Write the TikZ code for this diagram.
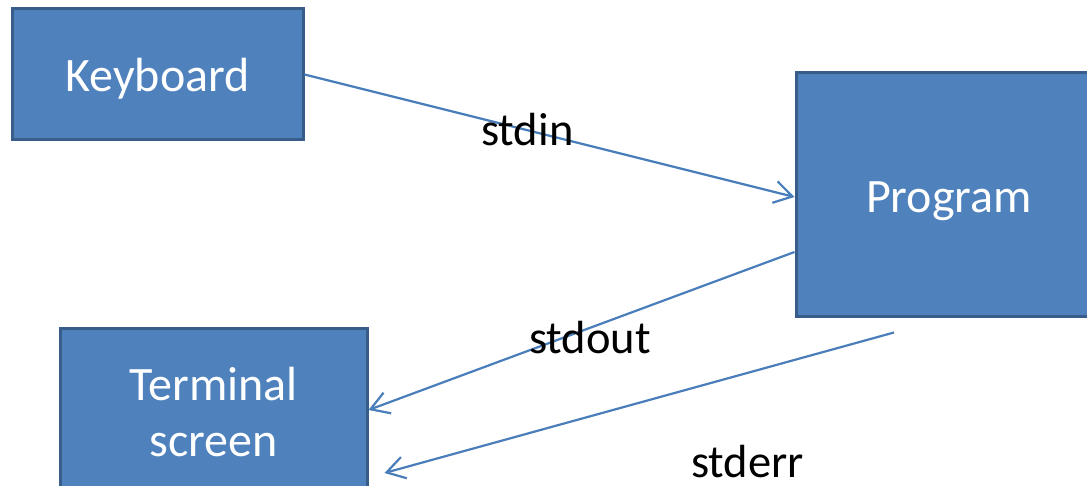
\documentclass[tikz,border=0pt]{standalone}
\usepackage{fontspec}
\setmainfont{Carlito}
\usetikzlibrary{arrows.meta}
\definecolor{boxfill}{HTML}{4F81BD}
\definecolor{boxline}{HTML}{385D8A}
\definecolor{flow}{HTML}{4A7EBB}
\tikzset{
  unit/.style={draw=boxline, fill=boxfill, line width=3pt, text=white,
    inner sep=0pt, align=center, font=\fontsize{48}{56}\selectfont},
  stream/.style={draw=flow, line width=2.2pt,
    -{Straight Barb[length=18pt,width=22pt,line width=2.2pt]}},
  tag/.style={inner sep=0pt, anchor=base west, text=black,
    font=\fontsize{46.5}{54}\selectfont}
}
\newcommand{\lowered}[2]{\raisebox{-#1}[\height][\depth]{#2}}
\begin{document}
\begin{tikzpicture}[x=1pt,y=-1pt]
  \useasboundingbox (0,0) rectangle (1087,486);
  \clip (0,0) rectangle (1087,486);
  % the three parties
  \node[unit, minimum width=291pt, minimum height=131pt] (kbd) at (157.5,74.5) {\lowered{4pt}{Keyboard}};
  \node[unit, minimum width=306pt, minimum height=244pt] (prog) at (949,195) {\lowered{6pt}{Program}};
  \node[unit, minimum width=307pt, minimum height=166pt] (term) at (213.5,412) {Terminal\\screen};
  % the standard streams
  \draw[stream] (kbd.east) -- ([yshift=-2pt]prog.west);
  \draw[stream] ([yshift=-57pt]prog.west) -- ([yshift=2pt]term.east);
  \draw[stream] ([xshift=-55pt,yshift=-14pt]prog.south) -- ([xshift=16pt,yshift=-61pt]term.east);
  % stream names
  \node[tag] (lin) at (481,146) {stdin};
  \node[tag] (lout) at (529,353) {stdout};
  \node[tag] (lerr) at (691,477) {stderr};
\end{tikzpicture}
\end{document}
